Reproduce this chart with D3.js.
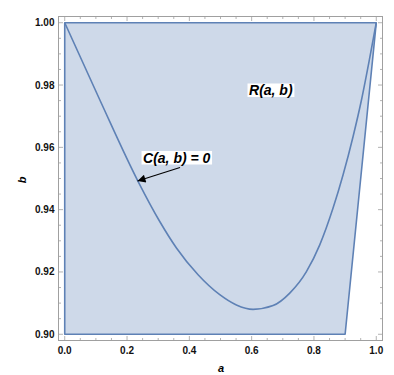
<!DOCTYPE html>
<html><head><meta charset="utf-8">
<script src="https://cdn.jsdelivr.net/npm/d3@7"></script>
<style>body{margin:0;background:#fff;}svg{display:block;font-family:"Liberation Sans",Arial,sans-serif;}</style>
</head><body>
<script>
// Region R(a,b) boundary (a, b)
const regionA = [0, 1, 0.9, 0];
const regionB = [1, 1, 0.9, 0.9];
// Curve C(a,b)=0 sampled points
const curveA = [0, 0.1146, 0.2353, 0.305, 0.3586, 0.428, 0.4976, 0.551, 0.6045, 0.6688, 0.7223, 0.7758, 0.8186, 0.8613, 0.8935, 0.9256, 0.9525, 0.979, 1];
const curveB = [1, 0.9748, 0.9491, 0.9362, 0.9277, 0.9191, 0.9127, 0.9094, 0.9080, 0.9092, 0.9132, 0.9201, 0.9287, 0.9405, 0.9512, 0.9635, 0.9752, 0.9887, 1];
const xTicks = [0, 0.2, 0.4, 0.6, 0.8, 1.0];
const yTicks = [0.90, 0.92, 0.94, 0.96, 0.98, 1.00];
const xMinor = d3.range(0, 1.0001, 0.05);
const yMinor = d3.range(0.9, 1.0001, 0.005);

const W = 394, H = 375;
const svg = d3.select("body").append("svg").attr("width", W).attr("height", H);
const L = 58.5, R = 382.5, T = 16.5, B = 340.5;
const x = d3.scaleLinear().domain([-0.02, 1.02]).range([L, R]);
const y = d3.scaleLinear().domain([0.898, 1.002]).range([B, T]);
const blue = "#5e81b5";

// region
const reg = regionA.map((a, i) => [x(a), y(regionB[i])]);
svg.append("path").attr("d", "M" + reg.join("L") + "Z")
  .attr("fill", blue).attr("fill-opacity", 0.3)
  .attr("stroke", blue).attr("stroke-width", 1.6).attr("stroke-linejoin", "round");

// curve
const line = d3.line().x(d => x(d[0])).y(d => y(d[1])).curve(d3.curveMonotoneX);
svg.append("path").datum(curveA.map((a, i) => [a, curveB[i]]))
  .attr("d", line).attr("fill", "none").attr("stroke", blue).attr("stroke-width", 1.6);

// frame
const fc = "#a0a0a0";
svg.append("rect").attr("x", L).attr("y", T).attr("width", R - L).attr("height", B - T)
  .attr("fill", "none").attr("stroke", fc).attr("stroke-width", 1);

const fmtX = d3.format(".1f"), fmtY = d3.format(".2f");
// ticks on all four sides
const ax = svg.append("g").attr("stroke", fc).attr("stroke-width", 0.8);
xMinor.forEach(v => {
  const major = xTicks.some(t => Math.abs(t - v) < 1e-9);
  const len = major ? 4.5 : 2.5;
  ax.append("line").attr("x1", x(v)).attr("x2", x(v)).attr("y1", B).attr("y2", B - len);
  ax.append("line").attr("x1", x(v)).attr("x2", x(v)).attr("y1", T).attr("y2", T + len);
});
yMinor.forEach(v => {
  const major = yTicks.some(t => Math.abs(t - v) < 1e-9);
  const len = major ? 4.5 : 2.5;
  ax.append("line").attr("y1", y(v)).attr("y2", y(v)).attr("x1", L).attr("x2", L + len);
  ax.append("line").attr("y1", y(v)).attr("y2", y(v)).attr("x1", R).attr("x2", R - len);
});
svg.selectAll(".xl").data(xTicks).enter().append("text")
  .attr("x", d => x(d)).attr("y", 354).attr("text-anchor", "middle")
  .attr("font-size", 10).attr("font-weight", "bold").attr("fill", "#111").text(d => fmtX(d));
svg.selectAll(".yl").data(yTicks).enter().append("text")
  .attr("x", 54.5).attr("y", d => y(d)).attr("dy", "0.35em").attr("text-anchor", "end")
  .attr("font-size", 10).attr("font-weight", "bold").attr("fill", "#111").text(d => fmtY(d));

// axis labels
svg.append("text").attr("x", 221).attr("y", 372).attr("text-anchor", "middle")
  .attr("font-size", 11).attr("font-weight", "bold").attr("font-style", "italic").text("a");
svg.append("text").attr("transform", "translate(26,180) rotate(-90)").attr("text-anchor", "middle")
  .attr("font-size", 11).attr("font-weight", "bold").attr("font-style", "italic").text("b");

// labels with white background
function label(cx, cy, txt) {
  const g = svg.append("g");
  const t = g.append("text").attr("x", cx).attr("y", cy).attr("dy", "0.36em").attr("text-anchor", "middle")
    .attr("font-size", 14).attr("font-weight", "bold").attr("font-style", "italic").attr("fill", "#000").text(txt);
  const bb = t.node().getBBox();
  g.insert("rect", "text").attr("x", bb.x - 1.5).attr("y", cy - 6.5).attr("width", bb.width + 3).attr("height", 13.5).attr("fill", "#fff");
}
// arrow
svg.append("defs").append("marker").attr("id", "ah").attr("viewBox", "0 0 10 10").attr("refX", 10).attr("refY", 5)
  .attr("markerWidth", 10).attr("markerHeight", 8).attr("markerUnits", "userSpaceOnUse").attr("orient", "auto")
  .append("path").attr("d", "M0,0L10,5L0,10Z").attr("fill", "#000");
svg.append("line").attr("x1", 180).attr("y1", 167.5).attr("x2", 137.5).attr("y2", 181)
  .attr("stroke", "#000").attr("stroke-width", 1.1).attr("marker-end", "url(#ah)");
label(176.7, 157.5, "C(a, b) = 0");
label(270.8, 90, "R(a, b)");
</script>
</body></html>
